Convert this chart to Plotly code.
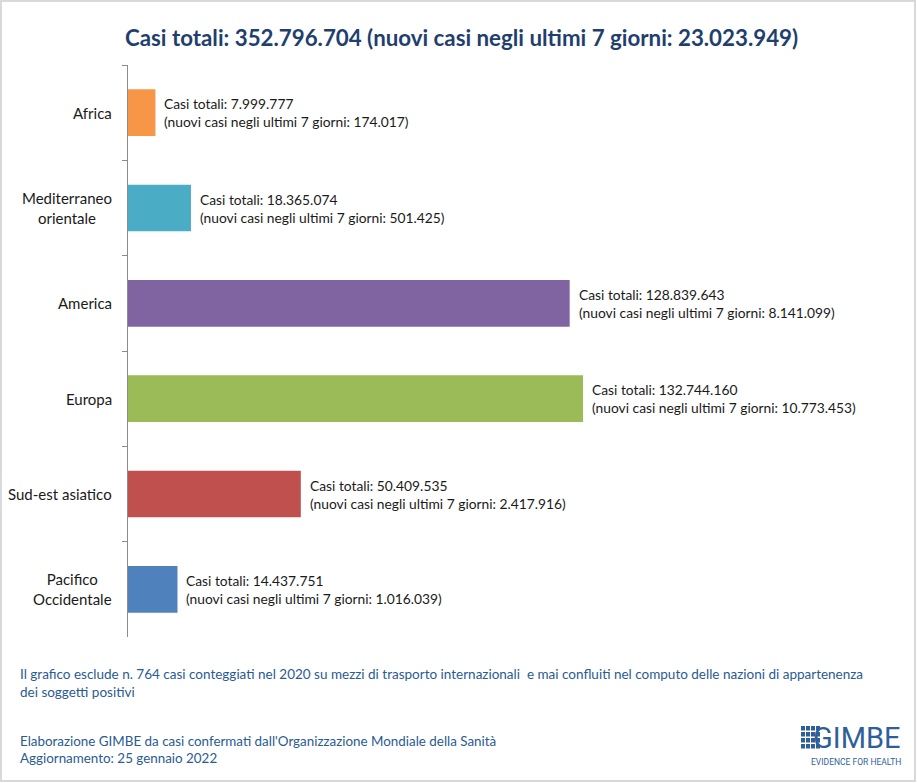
import plotly.graph_objects as go

regions = ["Africa", "Mediterraneo<br>orientale", "America", "Europa", "Sud-est asiatico", "Pacifico<br>Occidentale"]
totals = [7999777, 18365074, 128839643, 132744160, 50409535, 14437751]
new7 = [174017, 501425, 8141099, 10773453, 2417916, 1016039]
colors = ["#F79646", "#4BACC6", "#8064A2", "#9BBB59", "#C0504D", "#4F81BD"]
title_total = 352796704
title_new = 23023949

def it(n):
    return f"{n:,}".replace(",", ".")

W, H = 917, 783
ML, MR, MT, MB = 128, 17, 65, 146
PW, PH = W - ML - MR, H - MT - MB

fig = go.Figure()
fig.add_trace(go.Bar(
    y=regions, x=totals, orientation="h",
    marker=dict(color=colors, line=dict(width=0)),
    hoverinfo="skip", showlegend=False,
))

FONT = "Lato"
ann = []
for r, t, n in zip(regions, totals, new7):
    ann.append(dict(
        x=t, y=r, xref="x", yref="y", xanchor="left", yanchor="middle",
        xshift=7, align="left", showarrow=False,
        text=f"Casi totali: {it(t)}<br>(nuovi casi negli ultimi 7 giorni: {it(n)})",
        font=dict(family=FONT, size=13.8, color="#1A1A1A"),
    ))
    ann.append(dict(
        x=0, y=r, xref="paper", yref="y", xanchor="right", yanchor="middle",
        xshift=-14, align="center", showarrow=False, text=r,
        font=dict(family=FONT, size=15, color="#1A1A1A"),
    ))

def px(xp):
    return (xp - ML) / PW

def py(yp):
    return 1 - (yp - MT) / PH

ann += [
    dict(x=px(461), y=py(37), xref="paper", yref="paper", xanchor="center", yanchor="middle",
         showarrow=False, text=f"<b>Casi totali: {it(title_total)} (nuovi casi negli ultimi 7 giorni: {it(title_new)})</b>",
         font=dict(family=FONT, size=22.3, color="#1F3F6E")),
    dict(x=px(18), y=py(683), xref="paper", yref="paper", xanchor="left", yanchor="middle", align="left",
         showarrow=False,
         text="Il grafico esclude n. 764 casi conteggiati nel 2020 su mezzi di trasporto internazionali  e mai confluiti nel computo delle nazioni di appartenenza<br>dei soggetti positivi",
         font=dict(family=FONT, size=13.5, color="#2A5B92")),
    dict(x=px(18), y=py(749), xref="paper", yref="paper", xanchor="left", yanchor="middle", align="left",
         showarrow=False,
         text="Elaborazione GIMBE da casi confermati dall'Organizzazione Mondiale della Sanità<br>Aggiornamento: 25 gennaio 2022",
         font=dict(family=FONT, size=13.4, color="#2A5B92")),
    dict(x=px(903), y=py(738), xref="paper", yref="paper", xanchor="right", yanchor="middle",
         showarrow=False, text="GIMBE",
         font=dict(family="Liberation Sans Narrow, Roboto", size=29, color="#2F5F9A")),
    dict(x=px(903), y=py(762), xref="paper", yref="paper", xanchor="right", yanchor="middle",
         showarrow=False, text="EVIDENCE FOR HEALTH",
         font=dict(family="Liberation Sans Narrow, Roboto", size=8.5, color="#2F5F9A")),
]

shapes = [
    dict(type="rect", xref="paper", yref="paper", x0=px(1), x1=px(W - 2), y0=py(1), y1=py(H - 2),
         line=dict(color="#D9D9D9", width=2), fillcolor="rgba(0,0,0,0)", layer="below"),
]
# GIMBE logo icon (small grid)
for i in range(4):
    for j in range(4):
        x0 = 801 + j * 5
        y0 = 726 + i * 6
        shapes.append(dict(type="rect", xref="paper", yref="paper",
                           x0=px(x0), x1=px(x0 + 4), y0=py(y0), y1=py(y0 + 4.5),
                           line=dict(width=0), fillcolor="#2F5F9A"))

fig.update_layout(
    width=W, height=H,
    margin=dict(l=ML, r=MR, t=MT, b=MB, pad=0),
    paper_bgcolor="white", plot_bgcolor="white",
    bargap=0.51,
    xaxis=dict(range=[0, 225.2e6], visible=False, fixedrange=True),
    yaxis=dict(autorange="reversed", showticklabels=False, showline=True,
               linecolor="#8C8C8C", linewidth=1, ticks="outside", ticklen=5,
               tickcolor="#8C8C8C", tickson="boundaries", showgrid=False, zeroline=False),
    annotations=ann, shapes=shapes,
)

fig.write_html("out.html")
